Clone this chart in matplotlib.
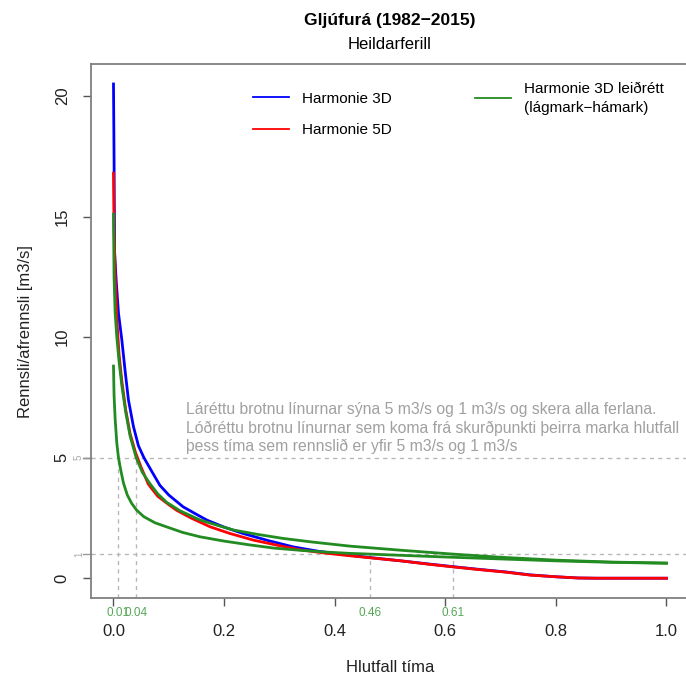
import numpy as np
import matplotlib
matplotlib.use('Agg')
import matplotlib.pyplot as plt
from matplotlib.lines import Line2D
from matplotlib.transforms import blended_transform_factory

plt.rcParams['font.family'] = ['Liberation Sans', 'DejaVu Sans']

# varaðferðarferlar: hlutfall tíma (x) og rennsli [m3/s] (y)
h3d_x = [0, 0.001, 0.002, 0.005, 0.009, 0.015, 0.021, 0.027, 0.036, 0.045, 0.055, 0.07,
         0.084, 0.10, 0.126, 0.15, 0.169, 0.20, 0.235, 0.28, 0.325, 0.37, 0.428, 0.467,
         0.52, 0.57, 0.614, 0.66, 0.71, 0.753, 0.80, 0.84, 0.874, 1.0]
h3d_y = [20.5, 17.5, 13.5, 12.3, 11.0, 9.9, 8.6, 7.4, 6.3, 5.5, 5.0, 4.4,
         3.85, 3.45, 2.96, 2.65, 2.41, 2.12, 1.85, 1.56, 1.3, 1.12, 0.95, 0.85,
         0.72, 0.59, 0.48, 0.37, 0.26, 0.14, 0.06, 0.01, 0.0, 0.0]

h5d_x = [0, 0.001, 0.003, 0.006, 0.010, 0.015, 0.022, 0.030, 0.040, 0.050, 0.063, 0.08,
         0.10, 0.114, 0.14, 0.175, 0.21, 0.253, 0.30, 0.337, 0.38, 0.428, 0.467, 0.52,
         0.57, 0.614, 0.66, 0.71, 0.753, 0.80, 0.84, 0.874, 1.0]
h5d_y = [16.8, 14.5, 12.6, 10.8, 9.3, 8.2, 7.0, 6.0, 5.2, 4.6, 3.9, 3.4,
         3.05, 2.82, 2.5, 2.13, 1.86, 1.58, 1.35, 1.18, 1.05, 0.93, 0.84, 0.72,
         0.58, 0.47, 0.36, 0.25, 0.13, 0.06, 0.01, 0.0, 0.0]

# leiðréttur 3D ferill, hámark og lágmark
hmax_x = [0, 0.001, 0.003, 0.006, 0.010, 0.015, 0.022, 0.030, 0.041, 0.052, 0.065, 0.08,
          0.096, 0.12, 0.156, 0.19, 0.217, 0.26, 0.307, 0.36, 0.428, 0.52, 0.614, 0.70,
          0.80, 0.90, 1.0]
hmax_y = [15.1, 12.5, 11.0, 10.0, 9.0, 8.0, 6.9, 5.9, 5.0, 4.4, 3.95, 3.5,
          3.15, 2.8, 2.42, 2.18, 2.0, 1.82, 1.65, 1.5, 1.33, 1.16, 1.0, 0.87,
          0.75, 0.67, 0.63]

hmin_x = [0, 0.001, 0.003, 0.006, 0.009, 0.013, 0.018, 0.025, 0.033, 0.042, 0.055, 0.075,
          0.096, 0.125, 0.156, 0.20, 0.247, 0.29, 0.337, 0.38, 0.428, 0.464, 0.52, 0.60,
          0.70, 0.80, 0.90, 1.0]
hmin_y = [8.8, 7.6, 6.6, 5.6, 5.0, 4.5, 3.95, 3.45, 3.1, 2.82, 2.55, 2.3,
          2.13, 1.9, 1.72, 1.54, 1.38, 1.25, 1.16, 1.09, 1.03, 1.0, 0.95, 0.88,
          0.80, 0.72, 0.66, 0.62]

levels = [5, 1]

fig = plt.figure(figsize=(6.86, 6.78), dpi=100)
ax = fig.add_axes([0.1332, 0.118, 0.8706, 0.7873])

dash_col = '#b8b8b8'
ymin = -0.82
for lv in levels:
    ax.axhline(lv, color=dash_col, lw=1.0, ls=(0, (3, 3)), zorder=1)

def crossing(xs, ys, lv):
    return float(np.interp(lv, ys[::-1], xs[::-1]))

trans_xa = blended_transform_factory(ax.transData, ax.transAxes)
for lv in levels:
    for xs, ys in [(hmin_x, hmin_y), (hmax_x, hmax_y)]:
        xc = crossing(np.array(xs), np.array(ys), lv)
        ax.vlines(xc, ymin, lv, color=dash_col, lw=1.0, ls=(0, (3, 3)), zorder=1)
        ax.text(xc, -0.028, f'{xc:.2f}', transform=trans_xa, ha='center', va='center',
                fontsize=8.5, color='#55a855', clip_on=False)

ax.plot(h3d_x, h3d_y, color='#0000ff', lw=2.0, zorder=3)
ax.plot(h5d_x, h5d_y, color='#ff0000', lw=2.0, zorder=4)
ax.plot(hmax_x, hmax_y, color='#228B22', lw=2.0, zorder=5)
ax.plot(hmin_x, hmin_y, color='#228B22', lw=2.0, zorder=5)

ax.set_xlim(-0.04, 1.04)
ax.set_ylim(ymin, 21.32)
ax.set_xticks([0, 0.2, 0.4, 0.6, 0.8, 1.0])
ax.set_xticklabels(['0.0', '0.2', '0.4', '0.6', '0.8', '1.0'])
ax.set_yticks([0, 5, 10, 15, 20])
ax.set_yticklabels(['0', '5', '10', '15', '20'], rotation=90, va='center')
ax.tick_params(axis='both', length=5.5, width=1.0, color='#555555', labelsize=12,
               labelcolor='#222222')
ax.tick_params(axis='x', pad=13)
ax.tick_params(axis='y', pad=10)
for sp in ax.spines.values():
    sp.set_color('#808080')
    sp.set_linewidth(1.3)

# smáir merkimiðar við 5 og 1 m3/s
trans_ay = blended_transform_factory(ax.transAxes, ax.transData)
for lv in levels:
    ax.plot([-0.014, 0], [lv, lv], color='#999999', lw=1.0, transform=trans_ay, clip_on=False)
    ax.text(-0.021, lv, str(lv), transform=trans_ay, rotation=90, ha='center', va='center',
            fontsize=7, color='#aaaaaa')

ax.set_xlabel('Hlutfall tíma', fontsize=12, labelpad=15, color='#222222')
ax.set_ylabel('Rennsli/afrennsli [m3/s]', fontsize=12, labelpad=16, color='#222222')

fig.text(0.5685, 0.970, 'Gljúfurá (1982\u22122015)', ha='center', va='center',
         fontsize=12.5, fontweight='bold')
fig.text(0.5685, 0.935, 'Heildarferill', ha='center', va='center', fontsize=12)

ax.text(0.131, 5.15,
        'Láréttu brotnu línurnar sýna 5 m3/s og 1 m3/s og skera alla ferlana.\n'
        'Lóðréttu brotnu línurnar sem koma frá skurðpunkti þeirra marka hlutfall\n'
        'þess tíma sem rennslið er yfir 5 m3/s og 1 m3/s',
        fontsize=11.3, color='#a0a0a0', ha='left', va='bottom', linespacing=1.25)

h1 = [Line2D([], [], color='#0000ff', lw=1.3), Line2D([], [], color='#ff0000', lw=1.3)]
leg1 = fig.legend(h1, ['Harmonie 3D', 'Harmonie 5D'], loc='upper left',
                  bbox_to_anchor=(245 / 686, 1 - 84 / 678), frameon=False, fontsize=11,
                  handlelength=2.4, handletextpad=0.8, labelspacing=1.15, borderpad=0)
h2 = [Line2D([], [], color='#228B22', lw=1.3)]
leg2 = fig.legend(h2, ['Harmonie 3D leiðrétt\n(lágmark\u2212hámark)'], loc='upper left',
                  bbox_to_anchor=(467 / 686, 1 - 74 / 678), frameon=False, fontsize=11,
                  handlelength=2.4, handletextpad=0.8, borderpad=0)
leg2.get_texts()[0].set_linespacing(1.45)

fig.savefig('out.png', dpi=100)
